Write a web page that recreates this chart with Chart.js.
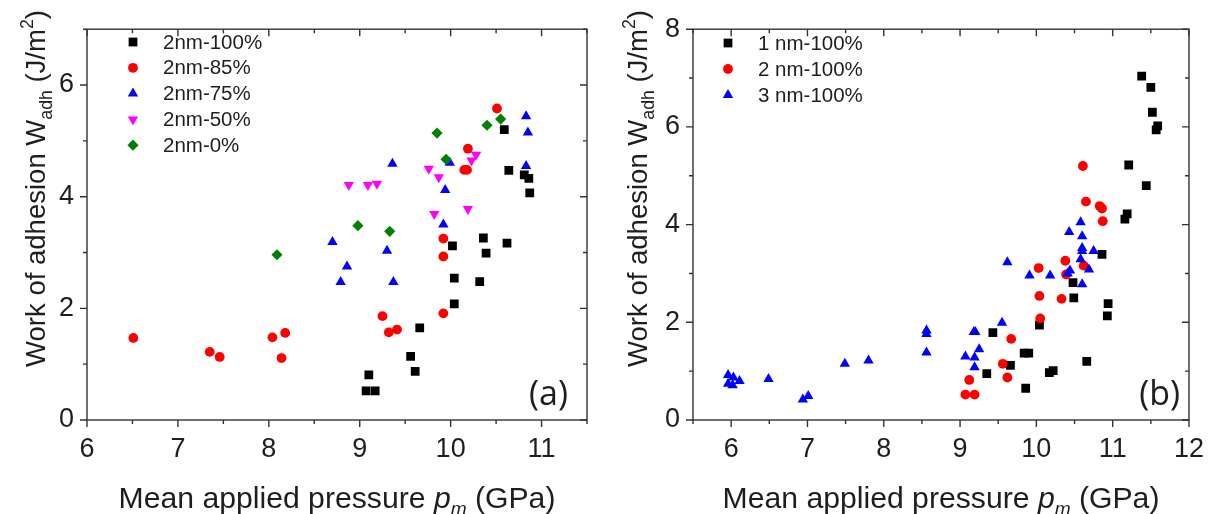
<!DOCTYPE html>
<html><head><meta charset="utf-8">
<script src="https://cdn.jsdelivr.net/npm/chart.js@4.4.0/dist/chart.umd.min.js"></script>
<style>
html,body{margin:0;padding:0;background:#fff;}
#wrap{position:relative;width:1217px;height:514px;overflow:hidden;}
#ca{position:absolute;left:0;top:0;}
#cb{position:absolute;left:600px;top:0;}
</style></head><body>
<div id="wrap"><canvas id="ca" width="600" height="514"></canvas><canvas id="cb" width="617" height="514"></canvas></div>
<script>
// ---------- Panel (a) data ----------
const a100X=[10.59,10.64,10.81,10.86,10.87,10.36,10.02,10.39,10.62,10.04,10.32,10.04,9.66,9.56,9.61,9.10,9.07,9.17];
const a100Y=[5.20,4.47,4.39,4.33,4.07,3.26,3.12,2.99,3.17,2.54,2.48,2.08,1.65,1.14,0.87,0.81,0.52,0.52];
const a85X=[10.51,10.19,10.15,10.18,9.92,9.92,9.92,9.25,9.32,9.41,6.51,7.35,7.46,8.04,8.18,8.14];
const a85Y=[5.58,4.86,4.48,4.48,3.25,2.93,1.91,1.86,1.57,1.62,1.47,1.22,1.13,1.48,1.56,1.11];
const a75X=[10.83,10.85,10.83,9.36,9.99,9.94,9.92,8.70,9.30,8.86,8.79,9.37];
const a75Y=[5.44,5.15,4.55,4.59,4.61,4.12,3.50,3.19,3.03,2.75,2.47,2.47];
const a50X=[10.28,10.23,9.76,9.87,8.88,9.09,9.19,10.19,9.82];
const a50Y=[4.75,4.65,4.50,4.35,4.21,4.21,4.23,3.78,3.69];
const a0X=[10.55,10.40,9.85,9.95,8.98,9.33,8.09];
const a0Y=[5.39,5.28,5.14,4.67,3.48,3.38,2.96];
const aNames=['2nm-100%','2nm-85%','2nm-75%','2nm-50%','2nm-0%'];
const aXTicks=[6,7,8,9,10,11];
const aYTicks=[0,2,4,6];

// ---------- Panel (b) data ----------
const b1X=[11.38,11.50,11.52,11.59,11.57,11.21,11.44,11.19,11.16,10.86,10.48,10.49,10.94,10.93,10.04,9.43,9.84,9.90,9.66,10.66,9.35,10.17,10.22,9.86];
const b1Y=[7.04,6.81,6.30,6.02,5.94,5.22,4.80,4.22,4.11,3.39,2.81,2.50,2.38,2.13,1.94,1.79,1.37,1.37,1.12,1.20,0.95,0.97,1.01,0.65];
const b2X=[10.61,10.65,10.83,10.86,10.87,10.38,10.62,10.03,10.39,10.04,10.33,10.05,9.67,9.56,9.62,9.12,9.07,9.19];
const b2Y=[5.20,4.47,4.38,4.33,4.07,3.26,3.16,3.11,2.98,2.54,2.48,2.08,1.66,1.15,0.87,0.82,0.52,0.52];
const b3X=[10.58,10.43,10.60,10.60,10.60,10.75,10.58,9.62,10.44,10.69,9.91,10.18,10.41,10.60,9.55,8.56,8.56,9.18,9.20,8.56,9.25,9.07,9.19,9.19,7.49,7.80,6.49,5.96,6.03,6.11,5.96,6.02,6.94,7.01];
const b3Y=[4.05,3.85,3.76,3.52,3.46,3.46,3.29,3.23,3.06,3.08,2.96,2.96,3.00,2.78,1.99,1.83,1.76,1.80,1.80,1.38,1.45,1.30,1.28,1.08,1.15,1.22,0.84,0.92,0.87,0.80,0.74,0.71,0.42,0.49];
const bNames=['1 nm-100%','2 nm-100%','3 nm-100%'];
const bXTicks=[6,7,8,9,10,11,12];
const bYTicks=[0,2,4,6,8];

const FONT="'Liberation Sans', Arial, sans-serif";
const TXT='#1e1e1e';
const AX='#333';

const styles=[
  {color:'#000000',shape:'rect',r:6.2,rot:0},
  {color:'#ff0000',shape:'circle',r:4.9,rot:0},
  {color:'#0000ff',shape:'triangle',r:6,rot:0},
  {color:'#ff00ff',shape:'triangle',r:6,rot:180},
  {color:'#008000',shape:'rectRot',r:5.6,rot:0}
];

function pts(xs,ys){return xs.map((x,i)=>({x:x,y:ys[i]}));}
function mkDs(name,xs,ys,st,i,n){
  return {label:name,data:pts(xs,ys),pointStyle:st.shape,pointRadius:st.r,pointRotation:st.rot,
    backgroundColor:st.color,borderColor:st.color,borderWidth:0,pointBorderWidth:0,showLine:false,order:n-i};
}

function drawMarker(ctx,st,x,y){
  if(Chart.helpers && Chart.helpers.drawPoint){
    ctx.save();ctx.fillStyle=st.color;ctx.strokeStyle=st.color;ctx.lineWidth=0;
    Chart.helpers.drawPoint(ctx,{pointStyle:st.shape,radius:st.r,rotation:st.rot,borderWidth:0},x,y);
    ctx.restore();
  }
}

function fontOf(s,k){return (s.it?'italic ':'')+(s.size*k)+'px '+FONT;}
function drawSegs(ctx,segs,x,y,k){
  let cx=x;
  segs.forEach(s=>{
    ctx.font=fontOf(s,k);
    ctx.fillText(s.t,cx,y+(s.dy||0)*k);
    cx+=ctx.measureText(s.t).width;
  });
}
function segsWidth(ctx,segs,k){
  let w=0;segs.forEach(s=>{ctx.font=fontOf(s,k);w+=ctx.measureText(s.t).width;});return w;
}

const framePlugin={
  id:'frame',
  afterDraw(chart,args,o){
    const ctx=chart.ctx, ca=chart.chartArea, xs=chart.scales.x, ys=chart.scales.y;
    ctx.save();
    ctx.strokeStyle=AX;ctx.lineWidth=1.4;
    ctx.strokeRect(ca.left,ca.top,ca.right-ca.left,ca.bottom-ca.top);
    const MJ=7, MN=4;
    for(let v=o.xMin;v<=o.xMax+1e-9;v+=o.xMinor){
      const major=Math.abs(v-Math.round(v))<1e-6;
      const L=major?MJ:MN;const px=xs.getPixelForValue(v);
      ctx.beginPath();
      ctx.moveTo(px,ca.bottom);ctx.lineTo(px,ca.bottom+L);
      ctx.moveTo(px,ca.top);ctx.lineTo(px,ca.top+L);
      ctx.stroke();
    }
    for(let v=o.yMin;v<=o.yMax+1e-9;v+=o.yMinor){
      const major=Math.abs(v/2-Math.round(v/2))<1e-6;
      const L=major?MJ:MN;const py=ys.getPixelForValue(v);
      ctx.beginPath();
      ctx.moveTo(ca.left,py);ctx.lineTo(ca.left-L,py);
      ctx.moveTo(ca.right,py);ctx.lineTo(ca.right-L,py);
      ctx.stroke();
    }
    ctx.fillStyle=TXT;ctx.textBaseline='alphabetic';ctx.textAlign='left';
    // x title (fitted to target width)
    const xt=[{t:'Mean applied pressure ',size:30},{t:'p',size:30,it:true},{t:'m',size:19,it:true,dy:7},{t:' (GPa)',size:30}];
    let kx=o.xTitleW/segsWidth(ctx,xt,1);
    const xw=segsWidth(ctx,xt,kx);
    drawSegs(ctx,xt,(ca.left+ca.right)/2-xw/2,508,kx);
    // y title (fitted to target length)
    const yt=[{t:'Work of adhesion W',size:28},{t:'adh',size:18,dy:7},{t:' (J/m',size:28},{t:'2',size:18,dy:-12},{t:')',size:28}];
    let ky=o.yTitleL/segsWidth(ctx,yt,1);
    const yw=segsWidth(ctx,yt,ky);
    ctx.save();ctx.translate(o.yTitleX,188.5);ctx.rotate(-Math.PI/2);
    drawSegs(ctx,yt,-yw/2,0,ky);
    ctx.restore();
    // legend
    ctx.font='20.5px '+FONT;ctx.textBaseline='middle';
    o.names.forEach((n,i)=>{
      const y=o.legY0+i*o.legDy;
      drawMarker(ctx,styles[o.styleIdx[i]],o.legMX,y);
      ctx.fillStyle=TXT;ctx.fillText(n,o.legTX,y+1);
    });
    // panel label
    ctx.font="34px 'Open Sans', "+FONT;ctx.textAlign='right';ctx.textBaseline='alphabetic';
    ctx.fillText(o.label,o.labelX,405);
    ctx.restore();
  }
};

function scaleCfg(min,max,tickArr,isX,fitSize,pad){
  return {type:'linear',min:min,max:max,
    afterBuildTicks:s=>{s.ticks=tickArr.map(v=>({value:v}));},
    ticks:{font:{family:FONT,size:27},color:TXT,padding:pad,maxRotation:0,autoSkip:false,includeBounds:false,
      callback:v=>String(v)},
    grid:{display:false,drawTicks:false},border:{display:false},
    afterFit:s=>{if(isX){s.height=fitSize;}else{s.width=fitSize;}}
  };
}

function makeChart(id,datasets,xmin,xmax,ymin,ymax,xt,yt,yFit,padTop,padRight,frameOpts){
  return new Chart(document.getElementById(id),{
    type:'scatter',
    data:{datasets:datasets},
    options:{responsive:false,animation:false,events:[],devicePixelRatio:1,
      layout:{padding:{left:0,top:padTop,right:padRight,bottom:0}},
      scales:{x:scaleCfg(xmin,xmax,xt,true,94,13),y:scaleCfg(ymin,ymax,yt,false,yFit,13)},
      plugins:{legend:{display:false},tooltip:{enabled:false},frame:frameOpts}
    },
    plugins:[framePlugin]
  });
}

const aSeries=[[a100X,a100Y],[a85X,a85Y],[a75X,a75Y],[a50X,a50Y],[a0X,a0Y]];
const dsA=aSeries.map((s,i)=>mkDs(aNames[i],s[0],s[1],styles[i],i,aSeries.length));
makeChart('ca',dsA,6,11.5,0,7,aXTicks,aYTicks,87,16,13,
  {xMin:6,xMax:11.5,xMinor:0.5,yMin:0,yMax:7,yMinor:1,xTitleW:437,yTitleX:45,yTitleL:357,
   names:aNames,styleIdx:[0,1,2,3,4],legMX:133,legTX:163,legY0:42,legDy:25.8,label:'(a)',labelX:568});

const bSeries=[[b1X,b1Y],[b2X,b2Y],[b3X,b3Y]];
const dsB=bSeries.map((s,i)=>mkDs(bNames[i],s[0],s[1],styles[i],i,bSeries.length));
makeChart('cb',dsB,5.5,12,0,8,bXTicks,bYTicks,93,15,28,
  {xMin:5.5,xMax:12,xMinor:0.5,yMin:0,yMax:8,yMinor:1,xTitleW:437,yTitleX:47,yTitleL:357,
   names:bNames,styleIdx:[0,1,2],legMX:128,legTX:158,legY0:43,legDy:26,label:'(b)',labelX:580});
</script>
</body></html>
